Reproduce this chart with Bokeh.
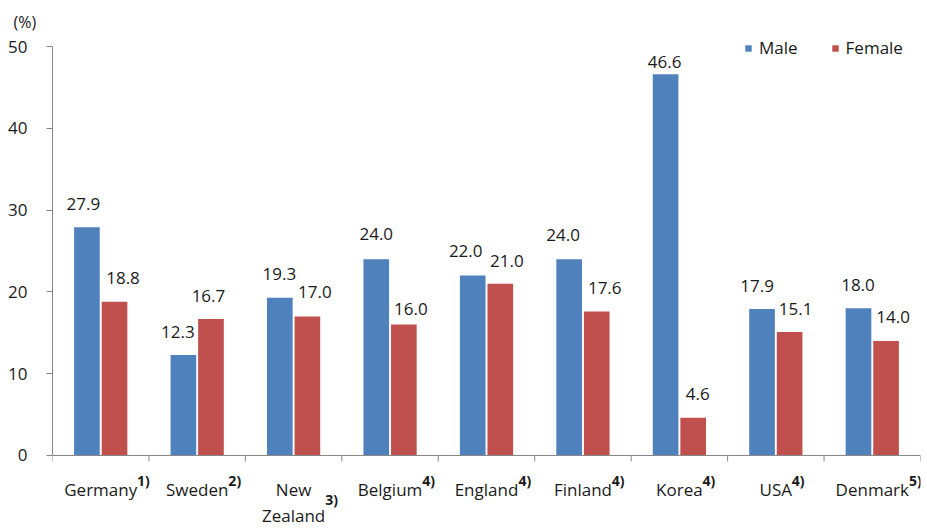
import math
from bokeh.plotting import figure
from bokeh.models import Range1d, FixedTicker, Legend, LegendItem, Title, ColumnDataSource
from bokeh.core.properties import value
from bokeh.embed import file_html
from bokeh.resources import INLINE

# ---------------- data ----------------
categories = ["Germany", "Sweden", "New\nZealand", "Belgium", "England",
              "Finland", "Korea", "USA", "Denmark"]
notes = ["1)", "2)", "3)", "4)", "4)", "4)", "4)", "4)", "5)"]
male = [27.9, 12.3, 19.3, 24.0, 22.0, 24.0, 46.6, 17.9, 18.0]
female = [18.8, 16.7, 17.0, 16.0, 21.0, 17.6, 4.6, 15.1, 14.0]
y_ticks = [0, 10, 20, 30, 40, 50]
series_names = ["Male", "Female"]
unit_label = "(%)"

# ---------------- style ----------------
MALE_COLOR = "#4F81BD"
FEMALE_COLOR = "#C0504D"
AXIS_COLOR = "#868686"
TEXT_COLOR = "#1a1a1a"
FONT = "Open Sans"
BAR_W = 0.266
BAR_OFF = 0.143
BASELINE_FIX = 7  # svg alphabetic baseline sits lower than expected
# value-label pixel nudges (horizontal shift, gap above bar top)
male_dx = [-3.5, -5.5, -0.5, 0, -7, -6, -1, -5, -0.5]
male_gap = [16, 16, 17, 18, 18, 17, 5, 16, 16]
female_dx = [8.5, -2.5, 7.5, 7, 6.5, 8, 4.5, 6, 7]
female_gap = [17, 16, 17, 9, 16, 17, 17, 16, 17]

# approximate Open Sans advance widths (em) for placing the superscript notes
EM = {"G": .695, "e": .561, "r": .408, "m": .930, "a": .556, "n": .614, "y": .502,
      "S": .544, "w": .778, "d": .613, "N": .748, "Z": .564, "l": .253, "B": .633,
      "i": .253, "u": .614, "g": .548, "E": .552, "F": .498, "K": .590, "o": .604,
      "U": .722, "A": .617, "D": .729, "k": .525, " ": .26}


def text_width(s, size):
    return sum(EM.get(c, 0.58) for c in s) * size


LABEL_SIZE = 17
n = len(categories)

# frame: x 52..920, y 30..529 ; value 0 at y=455, 50 at y=46
p = figure(width=927, height=529, output_backend="svg", toolbar_location=None,
           x_range=Range1d(0, n), y_range=Range1d(-9.05, 51.96),
           x_axis_location=None, min_border_left=52, min_border_right=7,
           min_border_top=30, min_border_bottom=0)
p.outline_line_color = None
p.xgrid.visible = False
p.ygrid.visible = False
p.background_fill_color = "white"
p.border_fill_color = "white"

# unit label as a left-aligned title over the y axis
p.title = Title(text=unit_label, align="left", offset=-39, standoff=-4,
                text_font=FONT, text_font_size="16px", text_font_style="normal",
                text_color=TEXT_COLOR, vertical_align="bottom")

# y axis
ax = p.yaxis[0]
ax.ticker = FixedTicker(ticks=y_ticks)
ax.bounds = (y_ticks[0], y_ticks[-1])
ax.axis_line_color = AXIS_COLOR
ax.major_tick_line_color = AXIS_COLOR
ax.major_tick_out = 6
ax.major_tick_in = 0
ax.minor_tick_line_color = None
ax.major_label_standoff = 19
ax.major_label_text_font = FONT
ax.major_label_text_font_size = "17px"
ax.major_label_text_color = TEXT_COLOR

# bars
centers = [i + 0.5 for i in range(n)]
src = ColumnDataSource(dict(
    xm=[c - BAR_OFF for c in centers], xf=[c + BAR_OFF for c in centers],
    male=male, female=female,
    lm=["%.1f" % v for v in male], lf=["%.1f" % v for v in female],
    dxm=male_dx, dxf=female_dx,
    dym=[-g - BASELINE_FIX for g in male_gap],
    dyf=[-g - BASELINE_FIX for g in female_gap]))
rm = p.vbar(x="xm", top="male", bottom=0, width=BAR_W, source=src,
            fill_color=MALE_COLOR, line_color=None)
rf = p.vbar(x="xf", top="female", bottom=0, width=BAR_W, source=src,
            fill_color=FEMALE_COLOR, line_color=None)

# value labels
for xcol, ycol, tcol, dx, dy in (("xm", "male", "lm", "dxm", "dym"),
                                  ("xf", "female", "lf", "dxf", "dyf")):
    p.text(x=xcol, y=ycol, text=tcol, x_offset=dx, y_offset=dy, source=src,
           text_align="center", text_baseline="alphabetic",
           text_font=value(FONT), text_font_size="17px", text_color=TEXT_COLOR)

# x axis line and ticks
p.segment(x0=[0], y0=[0], x1=[n], y1=[0], line_color=AXIS_COLOR, line_width=1)
p.ray(x=list(range(n + 1)), y=[0] * (n + 1), length=6, length_units="screen",
      angle=-math.pi / 2, line_color=AXIS_COLOR, line_width=1)

# category labels with superscript notes
lx, ly, lt, loff = [], [], [], []
sx, sy, st, sxo, syo = [], [], [], [], []
LINE = 26
FIRST = 41 - BASELINE_FIX
for i, (cat, note) in enumerate(zip(categories, notes)):
    lines = cat.split("\n")
    for j, line in enumerate(lines):
        lx.append(centers[i]); ly.append(0); lt.append(line); loff.append(FIRST + LINE * j)
    last = lines[-1]
    sx.append(centers[i]); sy.append(0); st.append(note)
    sxo.append(text_width(last, LABEL_SIZE) / 2)
    syo.append(FIRST + LINE * (len(lines) - 1) - 9 - 7 * (len(lines) - 1))

p.text(x=lx, y=ly, text=lt, y_offset=loff, text_align="center",
       text_baseline="alphabetic", text_font=value(FONT),
       text_font_size="%dpx" % LABEL_SIZE, text_color=TEXT_COLOR)
p.text(x=sx, y=sy, text=st, x_offset=sxo, y_offset=syo, text_align="left",
       text_baseline="alphabetic", text_font=value(FONT), text_font_size="14px",
       text_font_style="bold", text_color=TEXT_COLOR)

# legend
legend = Legend(items=[LegendItem(label=series_names[0], renderers=[rm]),
                       LegendItem(label=series_names[1], renderers=[rf])],
                orientation="horizontal", location=(692, 470),
                glyph_width=8, glyph_height=8, label_standoff=7, spacing=33,
                padding=0, margin=0, border_line_color=None,
                background_fill_alpha=0, label_text_font=FONT,
                label_text_font_size="17px", label_text_color=TEXT_COLOR,
                label_height=20)
p.add_layout(legend, "center")

open("out.html", "w").write(file_html(p, INLINE))
